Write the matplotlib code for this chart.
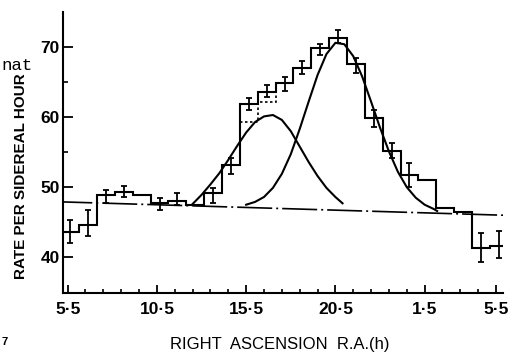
import numpy as np
import matplotlib
matplotlib.use('Agg')
import matplotlib.pyplot as plt
from matplotlib import font_manager

# Rate per sidereal hour, 1 h bins (centres in RA hours, >24 = next day) ######
ra_centres = [5.65, 6.65, 7.65, 8.65, 9.65, 10.65, 11.65, 12.65, 13.65,
              14.65, 15.65, 16.65, 17.65, 18.65, 19.65, 20.65, 21.65, 22.65,
              23.65, 24.65, 25.65, 26.65, 27.65, 28.65, 29.65]
rate = [43.6, 44.6, 48.9, 49.3, 48.9, 47.7, 48.1, 47.5, 49.1,
        53.1, 61.8, 63.6, 64.9, 67.0, 69.8, 71.3, 67.6, 59.9,
        55.1, 51.8, 51.0, 47.0, 46.4, 41.3, 41.6]
nan = np.nan
err_lo = [42.0, 43.1, 47.7, 48.6, nan, 46.7, 47.4, nan, 47.7,
          51.9, 61.0, 62.9, 63.7, 66.1, 68.9, 70.6, 66.3, 58.6,
          54.1, 50.0, nan, nan, nan, 39.3, 39.9]
err_hi = [45.3, 46.7, 49.6, 50.1, nan, 48.4, 49.1, nan, 49.9,
          54.1, 62.7, 64.6, 65.7, 68.0, 70.5, 72.4, 68.4, 61.0,
          56.3, 53.4, nan, nan, nan, 43.4, 43.7]

# dotted alternative histogram on the rising edge
dash_centres = [15.65, 16.65, 17.65]
dash_rate = [59.3, 62.1, 64.9]

# background (dash-dot) line
bg_ra = [5.2, 29.9]
bg_rate = [47.9, 46.0]

# the two fitted peaks
g1_ra = [12.5, 13.0, 13.5, 14.0, 14.5, 15.0, 15.5, 16.0, 16.5, 17.0,
         17.5, 18.0, 18.5, 19.0, 19.5, 20.0, 20.5, 20.9]
g1_rate = [47.6, 48.9, 50.4, 52.0, 53.9, 55.9, 57.8, 59.3, 60.1, 60.3,
           59.6, 58.0, 55.8, 53.6, 51.6, 49.9, 48.6, 47.7]
g2_ra = [15.5, 16.0, 16.5, 17.0, 17.5, 18.0, 18.5, 19.0, 19.5, 20.0,
         20.5, 21.0, 21.5, 22.0, 22.5, 23.0, 23.5, 24.0, 24.5, 25.0,
         25.5, 26.0, 26.2]
g2_rate = [47.5, 47.9, 48.6, 49.9, 51.9, 54.7, 58.3, 62.2, 66.0, 69.0,
           70.6, 70.4, 68.7, 65.8, 62.2, 58.5, 55.1, 52.2, 50.0, 48.5,
           47.5, 46.9, 46.6]

x_ticks = [5.5, 10.5, 15.5, 20.5, 25.5, 29.5]
x_labels = ['5·5', '10·5', '15·5', '20·5', '1·5', '5·5']
y_ticks = [40, 50, 60, 70]

# fonts ######################################################################
names = {f.name for f in font_manager.fontManager.ttflist}
narrow = 'Liberation Sans Narrow' if 'Liberation Sans Narrow' in names \
    else 'Liberation Sans'
plt.rcParams['font.family'] = [narrow, 'DejaVu Sans']

W, H = 510, 352
fig = plt.figure(figsize=(W / 100, H / 100), dpi=100)
ax = fig.add_axes([63 / W, 59 / H, 440 / W, 281 / H])
ax.set_xlim(5.24, 29.89)
ax.set_ylim(34.9, 75.0)

c = np.array(ra_centres)
edges = np.append(c - 0.5, c[-1] + 0.5)
ax.stairs(rate, edges, baseline=None, color='k', lw=1.5)

dc = np.array(dash_centres)
ax.stairs(dash_rate, np.append(dc - 0.5, dc[-1] + 0.5), baseline=None,
          color='k', lw=1.2, linestyle=(0, (1.5, 1.5)))

v = np.array(rate)
yerr = [v - np.array(err_lo), np.array(err_hi) - v]
ax.errorbar(c, v, yerr=yerr, fmt='none', ecolor='k', elinewidth=1.3,
            capsize=2.3, capthick=1.3)

ax.plot(bg_ra, bg_rate, color='k', lw=1.2,
        linestyle=(3, (21, 2.4, 1.2, 2.4)))
ax.plot(g1_ra, g1_rate, color='k', lw=1.5)
ax.plot(g2_ra, g2_rate, color='k', lw=1.5)

for s in ['top', 'right']:
    ax.spines[s].set_visible(False)
for s in ['left', 'bottom']:
    ax.spines[s].set_linewidth(1.5)

ax.set_xticks(x_ticks)
ax.set_xticklabels(x_labels)
ax.set_xticks([h + 0.5 for h in range(6, 29) if h + 0.5 not in x_ticks],
              minor=True)
ax.set_yticks(y_ticks)
ax.set_yticks([55, 65], minor=True)
ax.tick_params(axis='x', which='major', direction='in', length=5.8, width=1.3,
               pad=6.5, labelsize=12.5)
ax.tick_params(axis='x', which='minor', direction='in', length=2.9, width=1.2)
ax.tick_params(axis='y', which='major', direction='in', length=7, width=1.3,
               pad=2.5, labelsize=12.5)
ax.tick_params(axis='y', which='minor', direction='in', length=3.6, width=1.2)
for t in ax.get_xticklabels() + ax.get_yticklabels():
    t.set_fontweight('bold')

fig.text(21 / W, 0.5, 'RATE PER SIDEREAL HOUR', rotation=90, ha='center',
         va='center', fontsize=11, fontweight='bold')
fig.text(280 / W, 1 - 344 / H, 'RIGHT  ASCENSION  R.A.(h)', ha='center',
         va='center', fontsize=12)

# bits of the neighbouring page caught in the scan
fig.text(1 / W, 1 - 66 / H, 'nat', ha='left', va='center', fontsize=12.5,
         family=['Liberation Mono', 'DejaVu Sans Mono'])
fig.text(1 / W, 1 - 342 / H, '7', ha='left', va='center', fontsize=8,
         fontweight='bold')

fig.savefig('out.png', dpi=100)
